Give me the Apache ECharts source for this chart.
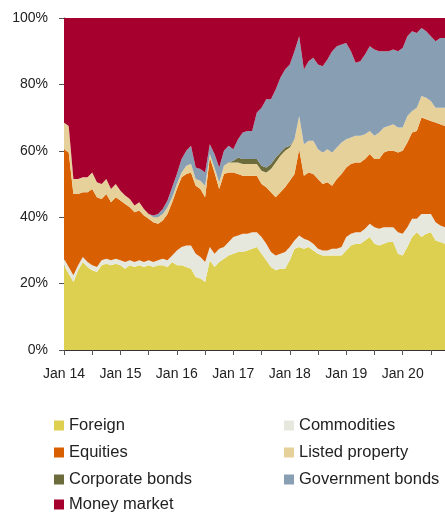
<!DOCTYPE html>
<html>
<head>
<meta charset="utf-8">
<script src="https://cdn.jsdelivr.net/npm/echarts@6/dist/echarts.min.js"></script>
<style>
html,body{margin:0;padding:0;background:#fff;}
#chart{width:445px;height:514px;}
</style>
</head>
<body>
<div id="chart"></div>
<script>
var categories = [
"Jan 14","Feb 14","Mar 14","Apr 14","May 14","Jun 14","Jul 14","Aug 14","Sep 14","Oct 14","Nov 14","Dec 14",
"Jan 15","Feb 15","Mar 15","Apr 15","May 15","Jun 15","Jul 15","Aug 15","Sep 15","Oct 15","Nov 15","Dec 15",
"Jan 16","Feb 16","Mar 16","Apr 16","May 16","Jun 16","Jul 16","Aug 16","Sep 16","Oct 16","Nov 16","Dec 16",
"Jan 17","Feb 17","Mar 17","Apr 17","May 17","Jun 17","Jul 17","Aug 17","Sep 17","Oct 17","Nov 17","Dec 17",
"Jan 18","Feb 18","Mar 18","Apr 18","May 18","Jun 18","Jul 18","Aug 18","Sep 18","Oct 18","Nov 18","Dec 18",
"Jan 19","Feb 19","Mar 19","Apr 19","May 19","Jun 19","Jul 19","Aug 19","Sep 19","Oct 19","Nov 19","Dec 19",
"Jan 20","Feb 20","Mar 20","Apr 20","May 20","Jun 20","Jul 20","Aug 20","Sep 20","Oct 20"
];

var foreign = [25.5,23,20.5,24,26.5,25,24,23.5,25.5,26,25.5,26,
25.5,24.5,25.5,25,25.5,25,25.5,25,25.5,25.5,25,26.5,
25.5,25.5,25,24.5,22,21.5,20.5,27,25,26.5,27.5,28.5,
29,29.5,29.5,30,30.5,31,29,27,25,24,24.5,24.5,
27,30.5,31,30.5,31,30,29,28.5,28.5,28.5,28.5,28.5,
30,31.5,32,32,33,34,32,31.5,32,32.5,32.5,29,
28.5,31,34,35.5,34,35,35.5,33,32.5,32];

var commodities = [2,2,2,1.5,1.5,1.5,1.5,1.5,1.5,1.5,1.5,1.5,
1.5,2,1.5,1.5,1.5,1.5,1.5,1.5,1.5,2,2,2,
4.5,5.5,6.5,7,7,6.5,6,4,4,4,3.5,4,
5,5,5.5,5,5,4.5,5,5,4.5,4.5,4.5,5,
4,2.5,3.5,3,2,2,1.5,1.5,1.5,2,2,2.5,
4,3.5,3.5,3.5,3.5,4,5,5,5,4.5,4.5,6.5,
6.5,6,5.5,4,7,6,5.5,5.5,5,5];

var equities = [33,34.5,24.5,21.5,19.5,21,23,21,18.5,19.5,17.5,18.5,
18,17.5,16,15,15,14,12.5,12,11,11.5,14,16,
18.5,21,21.5,22,20.5,20.5,19.5,27,24.5,18,22,21,
19.5,18.5,17.5,17.5,17,17,16,17,18,17.5,18.5,19.5,
20,20,26,19,20.5,21,21,20,20.5,19,21,22,
21,21,21,21,21,21,20.5,21,22.5,23,23,24,
25,25.5,26,26.5,29,28.5,28,30,30.5,30.5];

var listedProperty = [8,8,4.5,4.5,4.5,4.5,5,4.5,4.5,4.5,4,4,
3,2.5,2.5,2,2.5,2,1.5,1.5,2,2,2,1.5,
1.5,1.5,2.5,2.5,2,2.5,3.5,1,1.5,2,2.5,3,
3,3.5,3.5,3.5,3.5,3.5,4,4.5,7,10.5,11,11,
10,10.5,10,9.5,9.5,10,9,9.5,10,10,9.5,9.5,
8.5,8,8,8,7.5,7,7,8,7.5,7.5,8,7.5,
7,8,6.5,7,6.5,6.5,6,4.5,5,5.5];

var corporateBonds = [0,0,0,0,0,0,0,0,0,0,0,0,
0,0,0,0,0,0,0,0,0,0,0,0,
0,0,0,0,0,0,0,0,0,0,0,0,
0.5,1.5,1.5,1.5,1.5,1.5,1.5,1.5,1.5,1.5,1,1,
0.5,0,0,0,0,0,0,0,0,0,0,0,
0,0,0,0,0,0,0,0,0,0,0,0,
0,0,0,0,0,0,0,0,0,0];

var governmentBonds = [0,0,0,0,0,0,0,0,0,0,0,0,
0,0,0,0,0,0,0,0.5,1,1.5,2,3,
3,4,4.5,5.5,3.5,3.5,4,3,4,4.5,4.5,5,
3.5,5.5,8,8.5,8.5,14,17.5,20.5,19.5,20.5,22.5,23.5,
24.5,26.5,24,22.5,24,25,25.5,26,27,30.5,30.5,29.5,
29,26,22,22.5,24,25.5,26,24.5,23,22.5,22.5,23,
24,24,24,22.5,20.5,20,19.5,20,21,21];

var moneyMarket = [31.5,32.5,48.5,48.5,48,48,46.5,49.5,50,48.5,51.5,50,
52,53.5,54.5,56.5,55.5,57.5,59,59.5,59,57.5,55,51,
47,42.5,40,38.5,45,45.5,46.5,38,41,45,40,38.5,
39.5,36.5,34.5,34,34,28.5,27,24.5,24.5,21.5,18,15.5,
14,10,5.5,15.5,13,12,14,14.5,12.5,10,8.5,8,
7.5,10,13.5,13,11,8.5,9.5,10,10,10,9.5,10,
9,5.5,4,4.5,3,4,5.5,7,6,6];

var yTicks = [0,20,40,60,80,100];

var seriesDefs = [
  {name:"Foreign", data:foreign, color:"#DDCF50"},
  {name:"Commodities", data:commodities, color:"#E6E8DE"},
  {name:"Equities", data:equities, color:"#D96002"},
  {name:"Listed property", data:listedProperty, color:"#E7D19B"},
  {name:"Corporate bonds", data:corporateBonds, color:"#6B6B3B"},
  {name:"Government bonds", data:governmentBonds, color:"#889EB2"},
  {name:"Money market", data:moneyMarket, color:"#A6002F"}
];

var chart = echarts.init(document.getElementById('chart'), null, {renderer:'canvas'});
var FONT = "'Liberation Sans', Arial, sans-serif";

function legendCol(names, left, top){
  return {
    data:names, orient:'vertical', left:left, top:top, padding:0,
    icon:'rect', itemWidth:10, itemHeight:10, itemGap:10,
    selectedMode:false,
    textStyle:{fontSize:16.5, color:'#222', fontFamily:FONT}
  };
}

var option = {
  animation:false,
  backgroundColor:'#ffffff',
  textStyle:{fontFamily:FONT},
  grid:{left:64, right:0, top:18, bottom:164, containLabel:false},
  xAxis:{
    type:'category',
    data:categories,
    boundaryGap:false,
    axisLine:{show:true, lineStyle:{color:'#333', width:1}},
    axisTick:{show:true, interval:5, length:5, inside:false, lineStyle:{color:'#555'}},
    axisLabel:{interval:11, margin:17, color:'#222', fontSize:14, fontFamily:FONT},
    splitLine:{show:false}
  },
  yAxis:{
    type:'value',
    min:yTicks[0], max:yTicks[yTicks.length-1], interval:20,
    axisLine:{show:true, lineStyle:{color:'#555', width:1}},
    axisTick:{show:true, length:5, inside:false, lineStyle:{color:'#555'}},
    axisLabel:{formatter:'{value}%', margin:16, color:'#222', fontSize:14, fontFamily:FONT},
    splitLine:{show:true, lineStyle:{color:'#d9d9d9', width:1}}
  },
  legend:[
    legendCol(["Foreign","Equities","Corporate bonds"], 54, 417),
    legendCol(["Money market"], 54, 496),
    legendCol(["Commodities","Listed property","Government bonds"], 284, 417)
  ],
  series: seriesDefs.map(function(s){
    return {
      name:s.name, type:'line', stack:'total', data:s.data,
      symbol:'none', showSymbol:false,
      lineStyle:{width:0, color:s.color},
      itemStyle:{color:s.color},
      areaStyle:{color:s.color, opacity:1},
      emphasis:{disabled:true}
    };
  })
};
chart.setOption(option);
</script>
</body>
</html>
